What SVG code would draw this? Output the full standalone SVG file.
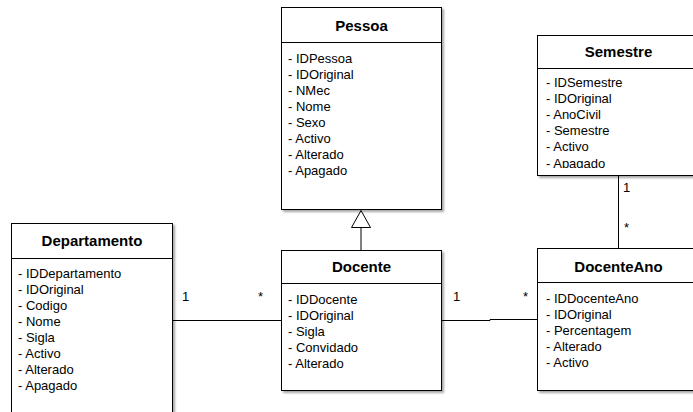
<svg xmlns="http://www.w3.org/2000/svg" width="693" height="412" viewBox="0 0 693 412">
  <style>
    .box { fill: #ffffff; stroke: #000000; stroke-width: 1; filter: url(#shadow); }
    .sep { stroke: #000000; stroke-width: 1; fill: none; }
    .title { font-family: "Liberation Sans", Arial, sans-serif; font-size: 15px; font-weight: bold; fill: #000000; text-anchor: middle; }
    .attr { font-family: "Liberation Sans", Arial, sans-serif; font-size: 13px; fill: #000000; }
    .mult { font-family: "Liberation Sans", Arial, sans-serif; font-size: 13px; fill: #000000; }
    .edge { stroke: #000000; stroke-width: 1; fill: none; }
  </style>
  <defs>
    <filter id="shadow" x="-10%" y="-10%" width="130%" height="130%">
      <feDropShadow dx="2" dy="2" stdDeviation="1" flood-color="#000000" flood-opacity="0.35"/>
    </filter>
    <!-- attribute area of Semestre is cut off just under the last row -->
    <clipPath id="semestreClip">
      <rect x="537" y="69" width="170" height="99"/>
    </clipPath>
  </defs>

  <rect width="693" height="412" fill="#ffffff"/>

  <!-- connectors -->
  <g id="connectors">
    <!-- generalisation Docente -> Pessoa -->
    <path class="edge" d="M361,250.5 V227.5"/>
    <polygon class="edge" points="361,210.5 351.5,227.5 370.5,227.5" fill="#ffffff"/>
    <!-- Departamento - Docente -->
    <path class="edge" d="M172.5,320.5 H281.5"/>
    <text class="mult" x="182" y="300.5">1</text>
    <text class="mult" x="258" y="301">*</text>
    <!-- Docente - DocenteAno -->
    <path class="edge" d="M441.5,320.5 H490 V319.5 H537.5"/>
    <text class="mult" x="453" y="300.5">1</text>
    <text class="mult" x="523" y="301">*</text>
    <!-- Semestre - DocenteAno -->
    <path class="edge" d="M618.5,175.5 V248.5"/>
    <text class="mult" x="623" y="191.5">1</text>
    <text class="mult" x="624" y="232">*</text>
  </g>

  <g id="Pessoa">
    <rect class="box" x="281.5" y="7.5" width="160" height="202"/>
    <line class="sep" x1="281.5" y1="42.5" x2="441.5" y2="42.5"/>
    <text class="title" x="361.5" y="30.7">Pessoa</text>
    <text class="attr" x="288" y="62.5">- IDPessoa</text>
    <text class="attr" x="288" y="78.5">- IDOriginal</text>
    <text class="attr" x="288" y="94.5">- NMec</text>
    <text class="attr" x="288" y="110.5">- Nome</text>
    <text class="attr" x="288" y="126.5">- Sexo</text>
    <text class="attr" x="288" y="142.5">- Activo</text>
    <text class="attr" x="288" y="158.5">- Alterado</text>
    <text class="attr" x="288" y="174.5">- Apagado</text>
  </g>

  <g id="Docente">
    <rect class="box" x="281.5" y="250.5" width="160" height="140"/>
    <line class="sep" x1="281.5" y1="283.5" x2="441.5" y2="283.5"/>
    <text class="title" x="361.5" y="271.7">Docente</text>
    <text class="attr" x="288" y="304.3">- IDDocente</text>
    <text class="attr" x="288" y="320.3">- IDOriginal</text>
    <text class="attr" x="288" y="336.3">- Sigla</text>
    <text class="attr" x="288" y="352.3">- Convidado</text>
    <text class="attr" x="288" y="368.3">- Alterado</text>
  </g>

  <g id="Departamento">
    <rect class="box" x="11.5" y="223.5" width="161" height="200"/>
    <line class="sep" x1="11.5" y1="258.5" x2="172.5" y2="258.5"/>
    <text class="title" x="92" y="245.7">Departamento</text>
    <text class="attr" x="18" y="278.3">- IDDepartamento</text>
    <text class="attr" x="18" y="294.3">- IDOriginal</text>
    <text class="attr" x="18" y="310.3">- Codigo</text>
    <text class="attr" x="18" y="326.3">- Nome</text>
    <text class="attr" x="18" y="342.3">- Sigla</text>
    <text class="attr" x="18" y="358.3">- Activo</text>
    <text class="attr" x="18" y="374.3">- Alterado</text>
    <text class="attr" x="18" y="390.3">- Apagado</text>
  </g>

  <g id="Semestre">
    <rect class="box" x="537.5" y="35.5" width="162" height="140"/>
    <line class="sep" x1="537.5" y1="68.5" x2="699.5" y2="68.5"/>
    <text class="title" x="618.5" y="57.3">Semestre</text>
    <g clip-path="url(#semestreClip)">
      <text class="attr" x="546" y="87.3">- IDSemestre</text>
      <text class="attr" x="546" y="103.3">- IDOriginal</text>
      <text class="attr" x="546" y="119.3">- AnoCivil</text>
      <text class="attr" x="546" y="135.3">- Semestre</text>
      <text class="attr" x="546" y="151.3">- Activo</text>
      <text class="attr" x="546" y="167.5">- Apagado</text>
    </g>
  </g>

  <g id="DocenteAno">
    <rect class="box" x="537.5" y="248.5" width="162" height="142"/>
    <line class="sep" x1="537.5" y1="282.5" x2="699.5" y2="282.5"/>
    <text class="title" x="618.5" y="271.7">DocenteAno</text>
    <text class="attr" x="546" y="303.3">- IDDocenteAno</text>
    <text class="attr" x="546" y="319.3">- IDOriginal</text>
    <text class="attr" x="546" y="335.3">- Percentagem</text>
    <text class="attr" x="546" y="351.3">- Alterado</text>
    <text class="attr" x="546" y="367.3">- Activo</text>
  </g>
</svg>
